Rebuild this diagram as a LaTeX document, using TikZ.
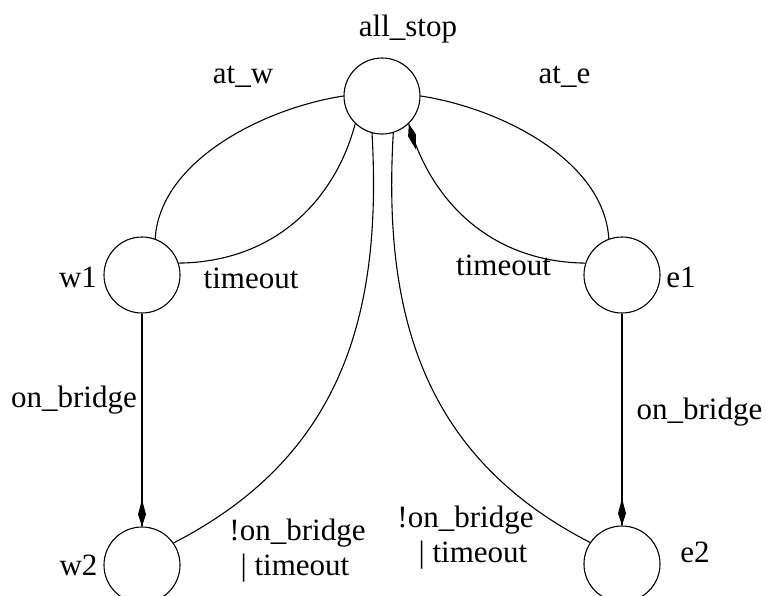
\documentclass[tikz,border=0pt]{standalone}
\usepackage{fontspec}
\setmainfont{Liberation Serif}
\usetikzlibrary{decorations.markings}
\begin{document}
\begin{tikzpicture}[x=1pt,y=-1pt,
  state/.style={circle,draw,line width=1.1pt,minimum size=76pt,inner sep=0pt},
  lbl/.style={anchor=base,inner sep=0pt,font=\fontsize{31}{35}\selectfont},
  % connector with a long kite-shaped head drawn at its end
  arr/.style={line width=1.1pt,
    decoration={markings,mark=at position 1 with {
      \fill (0pt,0pt) -- (-12pt,4pt) -- (-27pt,0pt) -- (-12pt,-4pt) -- cycle;}},
    postaction={decorate}}]
\useasboundingbox (0,0) rectangle (766,595);

% states
\node[state] (as) at (382,96) {};
\node[state] (w1) at (142,275) {};
\node[state] (e1) at (622,275) {};
\node[state] (w2) at (142,565) {};
\node[state] (e2) at (622,564) {};

% state names
\node[lbl] (tas) at (408,36) {all\_stop};
\node[lbl] (tw1) at (78,287) {w1};
\node[lbl] (te1) at (681,287) {e1};
\node[lbl] (tw2) at (78.5,575) {w2};
\node[lbl] (te2) at (695,562) {e2};

% transitions
\draw[arr] (as.west) .. controls (265,108) and (160,160) .. (w1.70);
\draw[arr] (as.east) .. controls (500,108) and (604,160) .. (e1.110);
\draw[arr] (w1.18) .. controls (275,262) and (335,200) .. (as.226);
\draw[arr] (e1.162) .. controls (490,262) and (430,200) .. (as.-46);
\draw[arr] (w2.35) .. controls (345,455) and (382,310) .. (as.-105);
\draw[arr] (e2.146) .. controls (420,455) and (383,310) .. (as.-73);
\draw[arr] (w1) -- (w2);
\draw[arr] (e1) -- (e2);

% transition labels
\node[lbl] (law) at (243,83) {at\_w};
\node[lbl] (lae) at (564.5,83) {at\_e};
\node[lbl] (ltw) at (251,288) {timeout};
\node[lbl] (lte) at (503.5,275) {timeout};
\node[lbl] (lbw) at (74,407) {on\_bridge};
\node[lbl] (lbe) at (699.5,419) {on\_bridge};
\node[lbl] (lnwa) at (297.5,540) {!on\_bridge};
\node[lbl] (lnwb) at (295,575) {| timeout};
\node[lbl] (lnea) at (465.5,527) {!on\_bridge};
\node[lbl] (lneb) at (473,562) {| timeout};
\end{tikzpicture}
\end{document}
